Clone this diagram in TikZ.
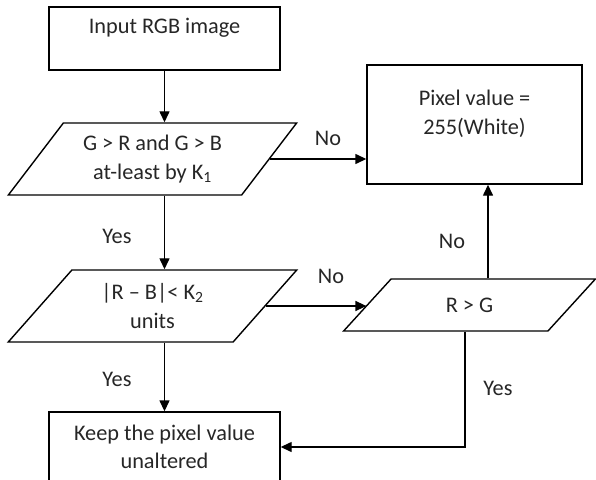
\documentclass[tikz,border=0pt]{standalone}
\usepackage{fontspec}
\setmainfont{Carlito}
\usetikzlibrary{shapes.geometric, arrows.meta}

\tikzset{
  box/.style={draw, rectangle, line width=1.4pt, inner sep=0pt, align=center},
  iobox/.style={draw, trapezium, trapezium stretches=true, line width=1.4pt, inner sep=0pt, align=center},
  flow/.style={line width=1.4pt, -{Triangle[length=11pt, width=10pt]}},
  lbl/.style={inner sep=0pt, align=center}
}

\begin{document}
\begin{tikzpicture}[x=1pt, y=-1pt, font=\fontsize{22.3}{28.5}\selectfont, text=black!85]
  \clip (0,0) rectangle (596,479);

  % Process boxes
  \node[box, minimum width=231pt, minimum height=63pt] (input) at (164.5,38.5) {};
  \node[lbl] (inputtxt) at (164.5,28) {Input RGB image};
  \node[box, minimum width=215pt, minimum height=119pt] (white) at (474.5,124.5) {};
  \node[lbl] (whitetxt) at (474.5,114) {Pixel value =\\255(White)};
  \node[box, minimum width=231pt, minimum height=70pt] (keep) at (164.5,447) {Keep the pixel value\\unaltered};

  % Decisions
  \node[iobox, trapezium left angle=48, trapezium right angle=132,
        minimum width=289pt, minimum height=72pt] (cond1) at (152.5,159)
        {G > R and G > B\\at-least by K\textsubscript{1}};
  \node[iobox, trapezium left angle=48, trapezium right angle=132,
        minimum width=289pt, minimum height=72pt] (cond2) at (152.5,306)
        {|R – B|< K\textsubscript{2}\\units};
  \node[iobox, trapezium left angle=45.6, trapezium right angle=134.4,
        minimum width=253pt, minimum height=52pt] (cond3) at (469.5,305) {R > G};

  % Connectors
  \draw[flow] (input.south) -- (input.south |- cond1.north);
  \draw[flow] (cond1.east) -- (cond1.east -| white.west);
  \draw[flow] (input.south |- cond1.south) -- (input.south |- cond2.north);
  \draw[flow] (cond2.east) -- (cond2.east -| cond3.west);
  \draw[flow] ([xshift=18.5pt]cond3.north) -- ([xshift=18.5pt]cond3.north |- white.south);
  \draw[flow] (input.south |- cond2.south) -- (input.south |- keep.north);
  \draw[flow] ([xshift=-4.5pt]cond3.south) |- (keep.east);

  % Branch labels
  \node[lbl] (no1) at (328,138) {No};
  \node[lbl] (yes1) at (117,236) {Yes};
  \node[lbl] (no2) at (331,276) {No};
  \node[lbl] (no3) at (452,241) {No};
  \node[lbl] (yes2) at (117,379) {Yes};
  \node[lbl] (yes3) at (498,388) {Yes};
\end{tikzpicture}
\end{document}
